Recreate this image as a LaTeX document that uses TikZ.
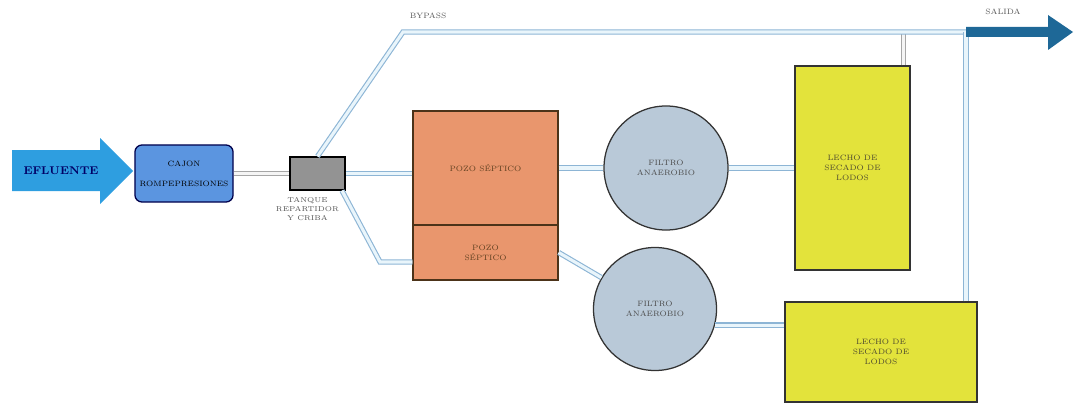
\documentclass[tikz,border=0pt]{standalone}
\usetikzlibrary{positioning}

\definecolor{efluenteblue}{HTML}{2E9EE0}
\definecolor{cajonblue}{HTML}{5B95E0}
\definecolor{pozofill}{HTML}{E9966D}
\definecolor{filtrofill}{HTML}{B9C9D8}
\definecolor{lechofill}{HTML}{E3E33B}
\definecolor{pipeedge}{HTML}{8DB5D5}
\definecolor{pipefill}{HTML}{E9F5FB}
\definecolor{salidablue}{HTML}{1E6897}
\definecolor{labelgray}{HTML}{555555}

\begin{document}
\begin{tikzpicture}[
        x=0.025cm, y=-0.025cm,
        small text/.style = {
            font=\fontsize{5.5}{7}\selectfont,
            align=center},
        my box/.style = {
            draw,
            line width=0.9pt,
            small text},
        my pipe/.style = {
            draw=pipeedge,
            line width=0.8pt,
            double=pipefill,
            double distance=2.2pt},
        gray pipe/.style = {
            my pipe,
            draw=gray!70,
            double=gray!8}
    ]
    \useasboundingbox (0,0) rectangle (1075,407);

    \coordinate (bypass) at (403,32);
    \coordinate (salida) at (966,32);
    \coordinate (codo) at (380,262);

    \fill[efluenteblue] (12,150) -- (100,150) -- (100,138) -- (133,171)
        -- (100,204) -- (100,191) -- (12,191) -- cycle;
    \node (efluente) [font=\bfseries\footnotesize, text=blue!40!black] at (61,171) {EFLUENTE};

    \node (cajon) [my box, draw=blue!30!black, fill=cajonblue, rounded corners=5pt,
        minimum width=2.4cm, minimum height=1.425cm] at (184,173.5)
        {CAJON\\[7pt]ROMPEPRESIONES};
    \node (tanque) [draw, line width=0.9pt, fill=gray!85,
        minimum width=1.375cm, minimum height=0.825cm] at (317.5,173.5) {};
    \node (tanquelbl) [small text, font=\fontsize{5}{6.5}\selectfont, text=labelgray,
        below=1pt of tanque, xshift=-0.25cm]
        {TANQUE\\REPARTIDOR\\Y CRIBA};

    \node (pozoa) [my box, draw=brown!40!black, fill=pozofill, text=brown!50!black,
        minimum width=3.625cm, minimum height=2.85cm] at (485.5,168) {POZO S\'EPTICO};
    \node (pozob) [my box, draw=brown!40!black, fill=pozofill, text=brown!50!black,
        minimum width=3.625cm, minimum height=1.375cm] at (485.5,252.5) {POZO\\S\'EPTICO};

    \node (filtroa) [my box, circle, draw=black!80, fill=filtrofill, text=black!70,
        minimum size=3.1cm] at (666,168) {FILTRO\\ANAEROBIO};
    \node (filtrob) [my box, circle, draw=black!80, fill=filtrofill, text=black!70,
        minimum size=3.075cm] at (655,309) {FILTRO\\ANAEROBIO};

    \node (lechoa) [my box, draw=black!80, fill=lechofill, text=olive!40!black,
        minimum width=2.875cm, minimum height=5.1cm] at (852.5,168)
        {LECHO DE\\SECADO DE\\LODOS};
    \node (lechob) [my box, draw=black!80, fill=lechofill, text=olive!40!black,
        minimum width=4.8cm, minimum height=2.5cm] at (881,352)
        {LECHO DE\\SECADO DE\\LODOS};

    \draw[gray pipe] (cajon.east) -- (tanque.west);
    \draw[gray pipe] ([xshift=-0.175cm]lechoa.north east)
        -- ([xshift=-0.175cm]lechoa.north east |- salida);
    \draw[my pipe] (tanque.north) -- (bypass) -- (salida);
    \draw[my pipe] (tanque.east) -- (tanque.east -| pozoa.west);
    \draw[my pipe] (tanque.-35) -- (codo) -- (codo -| pozob.west);
    \draw[my pipe] (pozoa.east) -- (filtroa.west);
    \draw[my pipe] (pozob.east) -- (filtrob);
    \draw[my pipe] (filtroa.east) -- (lechoa.west);
    \draw[my pipe] (filtrob.-15) -- (filtrob.-15 -| lechob.west);
    \draw[my pipe] (lechob.north -| salida) -- (salida);

    \fill[salidablue] (966,27) -- (1048,27) -- (1048,15) -- (1073,32)
        -- (1048,50) -- (1048,37) -- (966,37) -- cycle;

    \node (bypasslbl) [small text, text=labelgray] at (428,16) {BYPASS};
    \node (salidalbl) [small text, text=labelgray] at (1003,12) {SALIDA};
\end{tikzpicture}
\end{document}
